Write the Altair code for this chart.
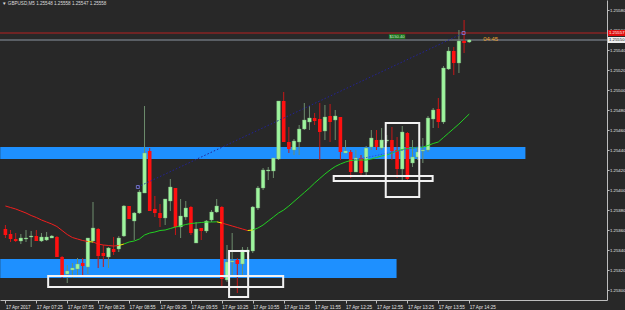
import altair as alt
import pandas as pd

# ---------------- data ----------------
opens = [1.25361,1.25356,1.25351,1.25349,1.25351,1.25353,1.25354,1.25349,1.25350,1.25352,
 1.25353,1.25333,1.25316,1.25320,1.25321,1.25327,1.25323,1.25349,1.25361,1.25337,
 1.25333,1.25341,1.25341,1.25354,1.25384,1.25369,1.25377,1.25397,1.25439,1.25381,
 1.25377,1.25372,1.25389,1.25402,1.25363,1.25373,1.25383,1.25347,1.25362,1.25359,
 1.25370,1.25378,1.25383,1.25310,1.25328,1.25330,1.25326,1.25338,1.25339,1.25382,
 1.25402,1.25419,1.25419,1.25431,1.25489,1.25448,1.25440,1.25448,1.25461,1.25468,
 1.25472,1.25471,1.25459,1.25474,1.25470,1.25473,1.25437,1.25438,1.25418,1.25432,
 1.25418,1.25443,1.25450,1.25442,1.25449,1.25450,1.25440,1.25421,1.25457,1.25427,
 1.25433,1.25439,1.25440,1.25471,1.25481,1.25468,1.25521,1.25539,1.25527,1.25549,
 1.25548]
highs = [1.25365,1.25360,1.25357,1.25356,1.25360,1.25359,1.25360,1.25357,1.25358,1.25355,
 1.25354,1.25334,1.25325,1.25327,1.25332,1.25332,1.25352,1.25388,1.25362,1.25345,
 1.25343,1.25353,1.25354,1.25385,1.25384,1.25378,1.25400,1.25484,1.25442,1.25394,
 1.25386,1.25391,1.25411,1.25402,1.25391,1.25389,1.25384,1.25368,1.25362,1.25370,
 1.25380,1.25391,1.25384,1.25345,1.25357,1.25332,1.25343,1.25343,1.25384,1.25404,
 1.25422,1.25423,1.25432,1.25489,1.25498,1.25463,1.25451,1.25465,1.25487,1.25484,
 1.25477,1.25487,1.25485,1.25486,1.25480,1.25473,1.25450,1.25440,1.25440,1.25435,
 1.25444,1.25460,1.25460,1.25462,1.25455,1.25463,1.25453,1.25464,1.25458,1.25450,
 1.25442,1.25452,1.25474,1.25482,1.25492,1.25524,1.25543,1.25543,1.25560,1.25570,
 1.25551]
lows = [1.25352,1.25348,1.25348,1.25346,1.25348,1.25343,1.25349,1.25348,1.25349,1.25352,
 1.25333,1.25312,1.25307,1.25312,1.25313,1.25313,1.25316,1.25347,1.25322,1.25323,
 1.25322,1.25335,1.25338,1.25353,1.25371,1.25350,1.25376,1.25397,1.25379,1.25373,
 1.25363,1.25365,1.25379,1.25355,1.25352,1.25370,1.25355,1.25347,1.25350,1.25357,
 1.25368,1.25377,1.25302,1.25308,1.25314,1.25297,1.25315,1.25332,1.25337,1.25380,
 1.25400,1.25410,1.25412,1.25430,1.25448,1.25437,1.25435,1.25435,1.25460,1.25460,
 1.25465,1.25430,1.25450,1.25448,1.25450,1.25430,1.25437,1.25412,1.25418,1.25415,
 1.25415,1.25440,1.25440,1.25440,1.25447,1.25430,1.25412,1.25410,1.25408,1.25423,
 1.25430,1.25427,1.25438,1.25462,1.25462,1.25466,1.25520,1.25515,1.25517,1.25537,
 1.25547]
closes = [1.25355,1.25351,1.25349,1.25352,1.25352,1.25354,1.25349,1.25353,1.25353,1.25354,
 1.25333,1.25314,1.25319,1.25322,1.25326,1.25324,1.25352,1.25362,1.25334,1.25334,
 1.25342,1.25338,1.25352,1.25384,1.25371,1.25377,1.25398,1.25437,1.25379,1.25377,
 1.25372,1.25391,1.25403,1.25363,1.25374,1.25382,1.25357,1.25361,1.25359,1.25369,
 1.25378,1.25384,1.25311,1.25328,1.25329,1.25326,1.25340,1.25340,1.25383,1.25402,
 1.25420,1.25420,1.25432,1.25489,1.25448,1.25441,1.25449,1.25461,1.25470,1.25472,
 1.25469,1.25458,1.25473,1.25468,1.25474,1.25438,1.25439,1.25418,1.25432,1.25417,
 1.25442,1.25452,1.25443,1.25450,1.25450,1.25439,1.25421,1.25458,1.25411,1.25433,
 1.25438,1.25440,1.25472,1.25480,1.25468,1.25522,1.25539,1.25527,1.25549,1.25547,
 1.25550]

ma_vals = [1.25384,1.253825,1.25381,1.25379,1.25377,1.253745,1.253725,1.25370,1.25368,1.25366,
 1.253635,1.253595,1.253555,1.253525,1.25351,1.253495,1.253485,1.25348,1.25346,1.25345,
 1.253445,1.25344,1.253445,1.25346,1.25348,1.25349,1.25351,1.25355,1.25357,1.25358,
 1.253595,1.25360,1.253615,1.25363,1.25364,1.253655,1.253665,1.25367,1.253675,1.25368,
 1.25368,1.253682,1.25367,1.253655,1.25364,1.253625,1.25361,1.253595,1.25360,1.25362,
 1.25365,1.25369,1.25373,1.25377,1.25380,1.25384,1.253885,1.25393,1.253975,1.25402,
 1.25407,1.254115,1.25416,1.25420,1.254235,1.25426,1.25428,1.254295,1.25430,1.25430,
 1.25430,1.25431,1.254325,1.25434,1.25435,1.25437,1.25439,1.254405,1.254415,1.25442,
 1.254425,1.25443,1.254445,1.254465,1.25448,1.254525,1.25457,1.254615,1.25466,1.25471,
 1.25476]
ma_run_end = [16, 17, 22, 23, 41, 42, 47, 48, 90]
ma_run_state = ["down", "flat", "down", "flat", "up", "flat", "down", "flat", "up"]

tick_idx = [0, 6, 12, 18, 24, 30, 36, 42, 48, 54, 60, 66, 72, 78, 84, 90]
tick_text = ["17 Apr 2017", "17 Apr 07:25", "17 Apr 07:55", "17 Apr 08:25", "17 Apr 08:55",
             "17 Apr 09:25", "17 Apr 09:55", "17 Apr 10:25", "17 Apr 10:55", "17 Apr 11:25",
             "17 Apr 11:55", "17 Apr 12:25", "17 Apr 12:55", "17 Apr 13:25", "17 Apr 13:55",
             "17 Apr 14:25"]
price_ticks = [1.25300, 1.25320, 1.25340, 1.25360, 1.25380, 1.25400, 1.25420, 1.25440,
               1.25460, 1.25480, 1.25500, 1.25520, 1.25540, 1.25560, 1.25580]

zone_start = [-1, -1]
zone_end = [100.9, 75.9]
zone_top = [1.25443, 1.25331]
zone_bottom = [1.25431, 1.25312]

box_x1 = [8.3, 43.4, 63.7, 73.8]
box_x2 = [53.9, 47.1, 82.9, 80.3]
box_top = [1.25314, 1.25339, 1.25414, 1.25467]
box_bottom = [1.25303, 1.25293, 1.25409, 1.25393]

trend_x = [25.7, 88.9]
trend_y = [1.25403, 1.25557]
trend2_x = [67.7, 81.0]
trend2_y = [1.25430, 1.25444]

ask_price = 1.25557
bid_price = 1.25550
profit_text = "$150.40"
profit_x = [74.4, 77.6]
profit_y = [1.25556, 1.25551]
timer_text = "04:45"
timer_x = 92.7
timer_y = 1.255515
header_text = "\u25bc GBPUSD,M5  1.25548 1.25558 1.25547 1.25558"

# ---------------- build tables ----------------
n = len(opens)
candles = pd.DataFrame({
    "i": list(range(n)), "open": opens, "high": highs, "low": lows, "close": closes,
})
candles["dir"] = ["bull" if c >= o else "bear" for o, c in zip(opens, closes)]

state = ["down"] * n
start = 1
for end, st in zip(ma_run_end, ma_run_state):
    for k in range(start, end + 1):
        state[k] = st
    start = end + 1
seg_rows = []
for k in range(1, n):
    seg_rows.append({"seg": k, "i": k - 1, "v": ma_vals[k - 1], "state": state[k]})
    seg_rows.append({"seg": k, "i": k, "v": ma_vals[k], "state": state[k]})
ma_df = pd.DataFrame(seg_rows)

zones = pd.DataFrame({"x1": zone_start, "x2": zone_end, "top": zone_top, "bottom": zone_bottom})
boxes = pd.DataFrame({"x1": box_x1, "x2": box_x2, "top": box_top, "bottom": box_bottom})
trend = pd.DataFrame({"i": trend_x, "v": trend_y})
trend2 = pd.DataFrame({"i": trend2_x, "v": trend2_y})

W, H = 607, 300
BG = "#282828"
FONT = "Liberation Sans"
xs = alt.Scale(domain=[-0.076, 115.76], nice=False, zero=False)
ys = alt.Scale(domain=[1.25290, 1.25590], nice=False, zero=False)

label_js = "[" + ",".join("'" + t + "'" for t in tick_text) + "]"
x_axis = alt.Axis(values=tick_idx, labelExpr=label_js + "[round(datum.value/6)]", title=None,
                  labelAlign="left", labelFontSize=4.6, labelFont=FONT, labelColor="#e6e6e6",
                  labelPadding=1, tickSize=3, tickColor="#bdbdbd", domainColor="#bdbdbd",
                  labelOverlap=False, grid=False, labelFlush=False)
y_axis = alt.Axis(values=price_ticks, format=".5f", orient="right", title=None,
                  labelFontSize=4.3, labelFont=FONT, labelColor="#e6e6e6", labelPadding=0.5,
                  tickSize=2, tickColor="#bdbdbd", domainColor="#bdbdbd", grid=False,
                  labelOverlap=False, labelFlush=False)


def X(f):
    return alt.X(f, type="quantitative", scale=xs, axis=x_axis)


def Y(f):
    return alt.Y(f, type="quantitative", scale=ys, axis=y_axis)


zone_layer = alt.Chart(zones).mark_rect(color="#1e90ff", clip=True).encode(
    x=X("x1"), x2="x2", y=Y("top"), y2="bottom")

ask_rule = alt.Chart(pd.DataFrame({"v": [ask_price]})).mark_rule(strokeWidth=1, color="#b42020").encode(y=Y("v"))
bid_rule = alt.Chart(pd.DataFrame({"v": [bid_price]})).mark_rule(strokeWidth=1, color="#8b96a2").encode(y=Y("v"))

bull = alt.datum.dir == "bull"
bear = alt.datum.dir == "bear"
wick_bull = alt.Chart(candles).transform_filter(bull).mark_rule(strokeWidth=1, clip=True, color="#6e8e6e").encode(
    x=X("i"), y=Y("low"), y2="high")
wick_bear = alt.Chart(candles).transform_filter(bear).mark_rule(strokeWidth=1, clip=True, color="#c81818").encode(
    x=X("i"), y=Y("low"), y2="high")
body_bull = alt.Chart(candles).transform_filter(bull).mark_bar(
    size=3.6, clip=True, color="#9ef59e", stroke="#7aa87a", strokeWidth=0.4).encode(
    x=X("i"), y=Y("open"), y2="close")
body_bear = alt.Chart(candles).transform_filter(bear).mark_bar(
    size=3.6, clip=True, color="#ff1010").encode(
    x=X("i"), y=Y("open"), y2="close")

ma_colors = {"down": "#f01e1e", "flat": "#f0f000", "up": "#22d022"}
ma_layers = [
    alt.Chart(ma_df).transform_filter(alt.datum.state == s).mark_line(
        strokeWidth=1, clip=True, color=c).encode(x=X("i"), y=Y("v"), detail="seg:N")
    for s, c in ma_colors.items()
]

trend_layer = alt.Chart(trend).mark_line(strokeWidth=1, strokeDash=[1.5, 2], color="#23239a", clip=True).encode(
    x=X("i"), y=Y("v"))
trend_pts = alt.Chart(trend).mark_point(shape="square", size=9, filled=False, color="#8c8cff",
                                        strokeWidth=1).encode(x=X("i"), y=Y("v"))
trend2_layer = alt.Chart(trend2).mark_line(strokeWidth=1, strokeDash=[1.5, 1.5], color="#3050e0", clip=True).encode(
    x=X("i"), y=Y("v"))

box_layer = alt.Chart(boxes).mark_rect(filled=False, stroke="#f2f2f2", strokeWidth=2, clip=True).encode(
    x=X("x1"), x2="x2", y=Y("top"), y2="bottom")


# current price labels on the price axis
def price_label(v, fill, txtcol):
    d = pd.DataFrame({"v": [v], "top": [v + 0.00003], "bot": [v - 0.00003], "txt": [f"{v:.5f}"]})
    r = alt.Chart(d).mark_rect(color=fill).encode(x=alt.value(W + 1), x2=alt.value(W + 19),
                                                  y=Y("top"), y2="bot")
    t = alt.Chart(d).mark_text(align="left", baseline="middle", fontSize=4.3, font=FONT,
                               color=txtcol).encode(x=alt.value(W + 2), y=Y("v"), text="txt:N")
    return [r, t]


prof = pd.DataFrame({"x1": [profit_x[0]], "x2": [profit_x[1]], "top": [profit_y[0]],
                     "bot": [profit_y[1]], "xm": [(profit_x[0] + profit_x[1]) / 2],
                     "ym": [(profit_y[0] + profit_y[1]) / 2], "txt": [profit_text]})
prof_rect = alt.Chart(prof).mark_rect(color="#1d6e1d").encode(x=X("x1"), x2="x2", y=Y("top"), y2="bot")
prof_text = alt.Chart(prof).mark_text(fontSize=4.2, font=FONT, color="#d0f0d0", baseline="middle").encode(
    x=X("xm"), y=Y("ym"), text="txt:N")

timer = pd.DataFrame({"i": [timer_x], "v": [timer_y], "txt": [timer_text]})
timer_layer = alt.Chart(timer).mark_text(align="left", baseline="middle", fontSize=6, font=FONT,
                                         color="#e8a030").encode(x=X("i"), y=Y("v"), text="txt:N")

header = alt.Chart(pd.DataFrame({"t": [header_text]})).mark_text(
    align="left", baseline="middle", fontSize=4.6, font=FONT, color="#dcdcdc").encode(
    x=alt.value(2), y=alt.value(4), text="t:N")

chart = alt.layer(
    zone_layer, ask_rule, bid_rule, wick_bull, wick_bear, body_bull, body_bear, *ma_layers,
    trend_layer, trend2_layer, trend_pts, box_layer, prof_rect, prof_text, timer_layer,
    *price_label(ask_price, "#e01010", "#ffffff"), *price_label(bid_price, "#f0f0f0", "#202020"),
    header
).properties(
    width=W, height=H, background=BG,
    padding={"left": 0, "top": 0, "right": 18, "bottom": 10},
    autosize=alt.AutoSizeParams(type="none"),
).configure_view(stroke=None, fill=BG)

chart.save("out.html", embed_options={"renderer": "svg", "actions": False})
